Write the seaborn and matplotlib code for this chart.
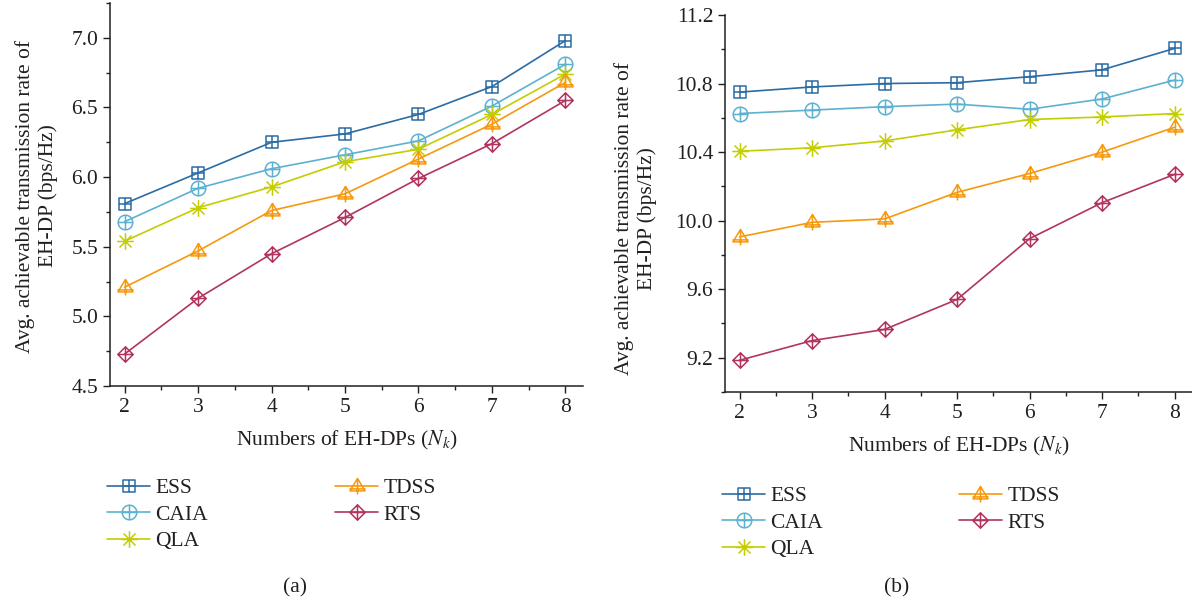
import matplotlib
matplotlib.use("Agg")
import matplotlib.pyplot as plt
import matplotlib.ticker as mticker
from matplotlib.path import Path
import numpy as np
import pandas as pd
import seaborn as sns

# number of EH-DPs
nodes = [2, 3, 4, 5, 6, 7, 8]

# panel (a)
essA = [5.81, 6.03, 6.25, 6.31, 6.45, 6.65, 6.98]
caiaA = [5.68, 5.92, 6.06, 6.16, 6.26, 6.51, 6.81]
qlaA = [5.54, 5.78, 5.93, 6.11, 6.20, 6.45, 6.74]
tdssA = [5.21, 5.47, 5.76, 5.88, 6.13, 6.38, 6.68]
rtsA = [4.73, 5.13, 5.45, 5.71, 5.99, 6.24, 6.55]

# panel (b)
essB = [10.75, 10.78, 10.80, 10.805, 10.84, 10.88, 11.005]
caiaB = [10.625, 10.645, 10.665, 10.68, 10.65, 10.71, 10.82]
qlaB = [10.405, 10.425, 10.465, 10.53, 10.59, 10.605, 10.625]
tdssB = [9.905, 9.99, 10.01, 10.165, 10.275, 10.40, 10.545]
rtsB = [9.185, 9.30, 9.365, 9.54, 9.895, 10.105, 10.27]

algos = ["ESS", "CAIA", "QLA", "TDSS", "RTS"]
colors = ["#2c6ca4", "#5cb1d0", "#c3cd00", "#f6990f", "#b13560"]


def buildMarker(shape):
    plus = [(-1, 0), (1, 0), (0, -1), (0, 1)]
    plusCodes = [Path.MOVETO, Path.LINETO, Path.MOVETO, Path.LINETO]
    if shape == "square":
        outline = Path([(-0.9, -0.9), (0.9, -0.9), (0.9, 0.9), (-0.9, 0.9), (-0.9, -0.9)], closed=True)
        cross = Path([(-0.9, 0), (0.9, 0), (0, -0.9), (0, 0.9)], plusCodes)
        return Path.make_compound_path(outline, cross,
                                       Path([(-1, -1), (-1, -1)], [Path.MOVETO, Path.LINETO]),
                                       Path([(1, 1), (1, 1)], [Path.MOVETO, Path.LINETO]))
    if shape == "circle":
        return Path.make_compound_path(Path.unit_circle(), Path(plus, plusCodes))
    if shape == "diamond":
        outline = Path([(0, -1), (1, 0), (0, 1), (-1, 0), (0, -1)], closed=True)
        return Path.make_compound_path(outline, Path(plus, plusCodes))
    if shape == "triangle":
        outline = Path([(0, 1), (-0.95, -0.55), (0.95, -0.55), (0, 1)], closed=True)
        cross = Path([(-1, -0.3), (1, -0.3), (0, 1), (0, -1)], plusCodes)
        return Path.make_compound_path(outline, cross)
    d = 0.72
    spokes = [(-1, 0), (1, 0), (0, -1), (0, 1), (-d, -d), (d, d), (-d, d), (d, -d)]
    return Path(spokes, plusCodes * 2)


markers = [buildMarker("square"), buildMarker("circle"), buildMarker("asterisk"),
           buildMarker("triangle"), buildMarker("diamond")]
markerSizes = [10, 10.5, 12, 11.5, 11]

sns.set_theme(style="ticks")
plt.rcParams["font.family"] = ["Liberation Serif", "DejaVu Serif"]
plt.rcParams["mathtext.fontset"] = "stix"
plt.rcParams["text.color"] = "#231f20"
plt.rcParams["axes.labelcolor"] = "#231f20"
plt.rcParams["xtick.color"] = "#231f20"
plt.rcParams["ytick.color"] = "#231f20"

fs = 15.5

fig = plt.figure(figsize=(11.92, 6.08), dpi=100)
axA = fig.add_axes([110 / 1192, 1 - 386 / 608, 473 / 1192, 383 / 608])
axB = fig.add_axes([725 / 1192, 1 - 392 / 608, 467 / 1192, 377 / 608])

panels = [
    (axA, [essA, caiaA, qlaA, tdssA, rtsA], (4.5, 7.25), 0.5, 0.25, (-0.11, 0.496), "(a)", 295, (107, 478), 5.9),
    (axB, [essB, caiaB, qlaB, tdssB, rtsB], (9.0, 11.2), 0.4, 0.2, (-0.145, 0.46), "(b)", 897, (722, 486), 6.3),
]

for ax, series, ylim, major, minor, labelPos, caption, capX, legPos, colSpace in panels:
    rows = []
    for name, vals in zip(algos, series):
        for n, v in zip(nodes, vals):
            rows.append({"Nodes": n, "Rate": v, "Algorithm": name})
    df = pd.DataFrame(rows)
    for name, col, mk, ms in zip(algos, colors, markers, markerSizes):
        sub = df[df["Algorithm"] == name]
        sns.lineplot(x="Nodes", y="Rate", data=sub, ax=ax, color=col, marker=mk,
                     markersize=ms, mfc="none", mec=col, mew=1.1, linewidth=1.2, label=name)

    ax.set_xlim(1.8, 8.24)
    ax.set_ylim(*ylim)
    ax.xaxis.set_major_locator(mticker.MultipleLocator(1))
    ax.xaxis.set_minor_locator(mticker.MultipleLocator(0.5))
    ax.yaxis.set_major_locator(mticker.MultipleLocator(major))
    ax.yaxis.set_minor_locator(mticker.MultipleLocator(minor))
    ax.yaxis.set_major_formatter(mticker.FormatStrFormatter("%.1f"))
    ax.tick_params(which="major", direction="out", length=5, width=1, labelsize=fs)
    ax.tick_params(which="minor", direction="out", length=3, width=1)
    for side in ["top", "right"]:
        ax.spines[side].set_visible(False)
    for side in ["left", "bottom"]:
        ax.spines[side].set_linewidth(1.1)
        ax.spines[side].set_color("#231f20")

    ax.set_xlabel(r"Numbers of EH-DPs ($N_k$)", fontsize=fs, labelpad=9)
    ax.set_ylabel("Avg. achievable transmission rate of\nEH-DP (bps/Hz)", fontsize=fs, linespacing=1.25)
    ax.yaxis.set_label_coords(*labelPos)

    handles, labels = ax.get_legend_handles_labels()
    ax.legend(handles, labels, ncol=2, frameon=False, fontsize=fs, loc="upper left",
              bbox_to_anchor=(legPos[0] / 1192, 1 - legPos[1] / 608), bbox_transform=fig.transFigure,
              borderpad=0, borderaxespad=0, handlelength=2.0, handletextpad=0.25,
              labelspacing=0.3, columnspacing=colSpace)

    fig.text(capX / 1192, 1 - 588 / 608, caption, fontsize=fs, ha="center", va="center")

plt.savefig("out.png", dpi=100)
plt.close()
